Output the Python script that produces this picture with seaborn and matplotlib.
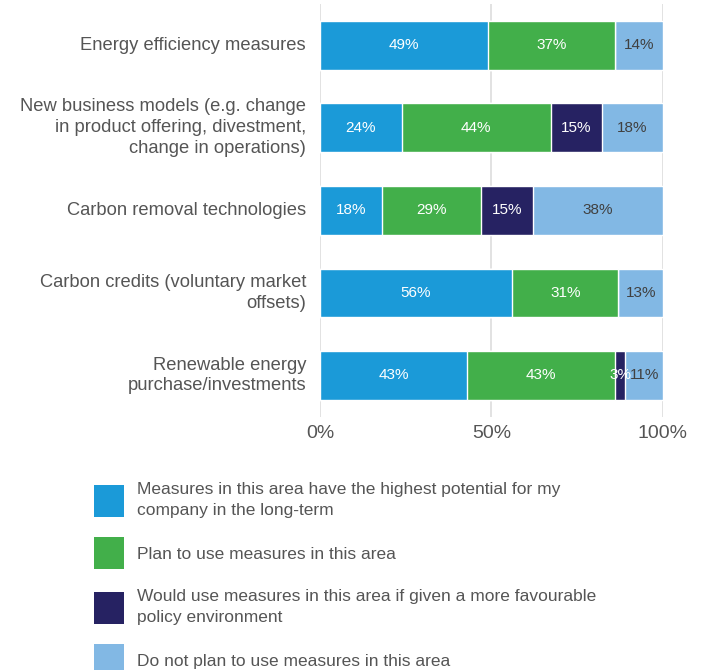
import numpy as np
import pandas as pd
import matplotlib
matplotlib.use("Agg")
import matplotlib.pyplot as plt
import seaborn as sns
from matplotlib.patches import Patch

# 数据
categories = [
    "Energy efficiency measures",
    "New business models (e.g. change\nin product offering, divestment,\nchange in operations)",
    "Carbon removal technologies",
    "Carbon credits (voluntary market\noffsets)",
    "Renewable energy\npurchase/investments",
]
highest_potential = [49, 24, 18, 56, 43]
plan_to_use = [37, 44, 29, 31, 43]
if_policy = [0, 15, 15, 0, 3]
not_plan = [14, 18, 38, 13, 11]

series_names = [
    "Measures in this area have the highest potential for my\ncompany in the long-term",
    "Plan to use measures in this area",
    "Would use measures in this area if given a more favourable\npolicy environment",
    "Do not plan to use measures in this area",
]
colors = ["#1B9AD8", "#42AF4A", "#262262", "#82B8E4"]
label_colors = ["white", "white", "white", "#404040"]

sns.set_style("white")
plt.rcParams["font.family"] = ["Liberation Sans", "DejaVu Sans"]
text_grey = "#555555"

values = np.array([highest_potential, plan_to_use, if_policy, not_plan], dtype=float)
shares = values / values.sum(axis=0) * 100  # 100% 堆叠
cum = np.cumsum(shares, axis=0)

fig = plt.figure(figsize=(7.05, 6.7), dpi=100)
ax = fig.add_axes([0.4539, 0.378, 0.4865, 0.616])

# 从后往前画累计值，实现堆叠
for i in reversed(range(len(series_names))):
    df = pd.DataFrame({"category": categories, "value": cum[i]})
    sns.barplot(data=df, x="value", y="category", orient="h", color=colors[i],
                width=0.59, saturation=1, ax=ax, zorder=2)

# 数值标签
for i in range(len(series_names)):
    for j, cat in enumerate(categories):
        v = values[i, j]
        if v <= 0:
            continue
        mid = cum[i, j] - shares[i, j] / 2
        ax.text(mid, j, f"{int(v)}%", ha="center", va="center",
                color=label_colors[i], fontsize=11, zorder=3)

ax.set_xlim(0, 100)
ax.set_ylim(4.5, -0.5)
ax.set_xticks([0, 50, 100])
ax.set_xticklabels(["0%", "50%", "100%"])
for x in [0, 50, 100]:
    ax.axvline(x, color="#dddddd", lw=1.2, zorder=0)
ax.set_xlabel("")
ax.set_ylabel("")
sns.despine(ax=ax, left=True, bottom=True)
ax.tick_params(axis="y", length=0, pad=10, labelsize=13.2, labelcolor=text_grey)
ax.tick_params(axis="x", length=0, pad=6, labelsize=14, labelcolor=text_grey)
for t in ax.get_yticklabels():
    t.set_linespacing(1.3)
    t.set_va("center")

# 图例
handles = [Patch(facecolor=c, edgecolor="none") for c in colors]
leg = fig.legend(handles, series_names, loc="upper left", bbox_to_anchor=(0.1333, 0.281),
                 frameon=False, fontsize=12.5, labelcolor=text_grey,
                 handlelength=1.73, handleheight=2.46, handletextpad=0.75,
                 labelspacing=1.1, borderpad=0, borderaxespad=0)
for t in leg.get_texts():
    t.set_linespacing(1.55)

plt.savefig("out.png", dpi=100)
plt.close()
